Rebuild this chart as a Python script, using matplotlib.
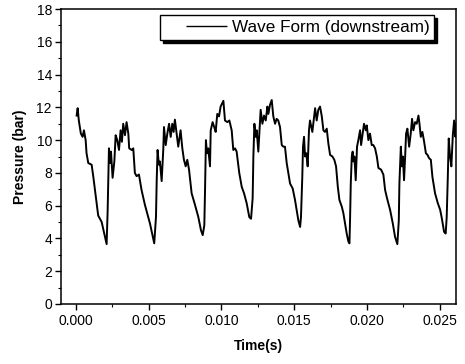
import matplotlib
matplotlib.use("Agg")
import matplotlib.pyplot as plt
from matplotlib.lines import Line2D
from matplotlib.ticker import MultipleLocator

plt.rcParams['font.family'] = ['Liberation Sans', 'DejaVu Sans']
plt.rcParams['lines.scale_dashes'] = False

# pressure wave (time in s, pressure in bar)
time_s = [0.00005, 0.00012, 0.00020, 0.00034, 0.00046, 0.00055, 0.00067, 0.00073, 0.00085, 0.00108,
          0.00119, 0.00137, 0.00153, 0.00177, 0.00195, 0.00211, 0.00218, 0.00227, 0.00234, 0.00241,
          0.00252, 0.00264, 0.00273, 0.00284, 0.00296, 0.00307, 0.00316, 0.00325, 0.00337, 0.00348,
          0.00360, 0.00366, 0.00383, 0.00394, 0.00405, 0.00417, 0.00433, 0.00451, 0.00474,
          0.00509, 0.00538, 0.00550, 0.00555, 0.00561, 0.00570, 0.00577, 0.00589, 0.00600, 0.00605,
          0.00617, 0.00628, 0.00640, 0.00651, 0.00662, 0.00671, 0.00680, 0.00692, 0.00703, 0.00719,
          0.00731, 0.00742, 0.00754, 0.00765, 0.00777, 0.00795, 0.00818, 0.00841, 0.00859, 0.00871,
          0.00882, 0.00887, 0.00893, 0.00900, 0.00909, 0.00921, 0.00926, 0.00939, 0.00950, 0.00960,
          0.00971, 0.00983, 0.00994,
          0.01013, 0.01024, 0.01040, 0.01054, 0.01070, 0.01081, 0.01093, 0.01104, 0.01122, 0.01139,
          0.01155, 0.01173, 0.01191, 0.01203, 0.01214, 0.01219, 0.01226, 0.01235, 0.01242, 0.01253,
          0.01260, 0.01269, 0.01281, 0.01292, 0.01304, 0.01315, 0.01322, 0.01333, 0.01345, 0.01356,
          0.01368, 0.01379, 0.01390, 0.01402, 0.01414, 0.01425, 0.01436, 0.01448, 0.01471, 0.01489,
          0.01505,
          0.01528, 0.01540, 0.01546, 0.01555, 0.01560, 0.01567, 0.01574, 0.01583, 0.01592, 0.01601,
          0.01608, 0.01615, 0.01624, 0.01636, 0.01643, 0.01654, 0.01665, 0.01677, 0.01689, 0.01700,
          0.01711, 0.01723, 0.01734, 0.01746, 0.01762, 0.01775, 0.01787, 0.01799, 0.01810, 0.01826,
          0.01837, 0.01849, 0.01860, 0.01872, 0.01879, 0.01883, 0.01888, 0.01895, 0.01901, 0.01906,
          0.01913, 0.01922, 0.01931, 0.01940, 0.01952, 0.01959, 0.01970, 0.01979, 0.01991, 0.01998,
          0.02009,
          0.02020, 0.02032, 0.02043, 0.02055, 0.02067, 0.02078, 0.02096, 0.02112, 0.02124, 0.02140,
          0.02158, 0.02177, 0.02192, 0.02208, 0.02218, 0.02222, 0.02232, 0.02239, 0.02246, 0.02254,
          0.02261, 0.02268, 0.02277, 0.02289, 0.02300, 0.02309, 0.02318, 0.02330, 0.02341, 0.02353,
          0.02360, 0.02369, 0.02380, 0.02392, 0.02404, 0.02415, 0.02426, 0.02438, 0.02449, 0.02467,
          0.02486, 0.02502, 0.02513, 0.02529, 0.02540, 0.02547, 0.02554, 0.02561, 0.02570, 0.02579,
          0.02589, 0.02598, 0.02607, 0.02612]
pressure = [11.5, 11.95, 11.2, 10.4, 10.2, 10.6, 10.0, 9.2, 8.6, 8.5,
            7.8, 6.55, 5.4, 5.0, 4.3, 3.65, 5.7, 9.5, 8.6, 9.3,
            7.7, 8.7, 10.3, 10.0, 9.4, 10.6, 9.9, 11.0, 10.3, 11.1,
            10.4, 9.5, 9.4, 9.5, 8.0, 7.8, 7.9, 6.95, 6.05,
            4.9, 3.7, 5.3, 7.55, 9.4, 8.5, 8.7, 7.5, 9.4, 10.8,
            9.7, 10.4, 11.0, 10.2, 11.0, 10.5, 11.25, 10.4, 9.6, 10.6,
            9.5, 8.8, 8.4, 8.8, 8.2, 6.75, 6.05, 5.3, 4.5, 4.2,
            4.8, 6.95, 10.0, 9.2, 9.5, 8.4, 10.6, 11.1, 10.8, 10.5,
            11.6, 11.45, 12.05,
            12.4, 11.2, 11.1, 11.2, 10.6, 9.4, 9.5, 9.3, 8.0, 7.15,
            6.75, 6.15, 5.3, 5.2, 6.45, 9.0, 11.0, 10.2, 10.6, 9.3,
            10.4, 11.85, 11.0, 11.5, 11.2, 12.05, 11.6, 12.15, 12.45, 11.45,
            11.0, 11.3, 11.2, 10.8, 9.7, 9.6, 9.6, 8.6, 7.35, 7.05,
            6.35,
            5.1, 4.7, 5.3, 7.75, 9.6, 10.2, 9.0, 9.2, 8.4, 10.6,
            11.2, 10.9, 10.5, 11.45, 11.95, 11.2, 11.85, 12.05, 11.45, 10.6,
            10.5, 10.7, 9.8, 9.1, 9.0, 8.8, 8.4, 7.15, 6.35, 5.95,
            5.55, 4.9, 4.3, 3.8, 3.7, 5.1, 7.35, 9.0, 9.3, 8.7,
            9.0, 7.55, 9.6, 10.0, 10.6, 9.7, 10.4, 11.0, 10.6, 10.9,
            10.0,
            10.4, 9.7, 9.7, 9.5, 9.0, 8.3, 8.2, 7.9, 6.95, 6.35,
            5.75, 4.9, 4.1, 3.65, 5.1, 7.35, 9.6, 8.4, 9.0, 7.55,
            8.9, 10.4, 10.7, 9.6, 10.4, 11.3, 10.6, 11.1, 11.0, 11.5,
            11.0, 10.2, 10.5, 9.9, 9.2, 9.1, 8.9, 8.8, 7.75, 6.75,
            6.15, 5.75, 5.25, 4.4, 4.3, 5.3, 7.55, 10.1, 9.0, 8.4,
            10.3, 11.2, 10.2, 11.0]
series_label = "Wave Form (downstream)"

fig = plt.figure(figsize=(4.65, 3.64), dpi=100)
ax = fig.add_axes([0.131, 0.165, 0.850, 0.810])

ax.plot(time_s, pressure, color="black", lw=1.4)

ax.set_xlim(-0.00103, 0.02612)
ax.set_ylim(0, 18)
ax.xaxis.set_major_locator(MultipleLocator(0.005))
ax.xaxis.set_minor_locator(MultipleLocator(0.0025))
ax.yaxis.set_major_locator(MultipleLocator(2))
ax.yaxis.set_minor_locator(MultipleLocator(1))
ax.xaxis.set_major_formatter(plt.FormatStrFormatter("%.3f"))
ax.tick_params(which="major", direction="out", length=4.5, width=1, labelsize=10, pad=3)
ax.tick_params(which="minor", direction="out", length=2.2, width=0.8)
ax.tick_params(axis="y", pad=2)
for s in ax.spines.values():
    s.set_linewidth(1.1)

ax.set_xlabel("Time(s)", fontsize=10, fontweight="bold", labelpad=8)
ax.set_ylabel("Pressure (bar)", fontsize=10, fontweight="bold", labelpad=7)

# legend handle: blank gap then line, like the original
handle = Line2D([], [], color="black", lw=1.0, linestyle=(29.5, (29.5, 14.4)))
leg = ax.legend([handle], [series_label], loc="upper right", bbox_to_anchor=(0.945, 0.980),
                borderaxespad=0, fontsize=12.3, frameon=True, fancybox=False,
                handlelength=3.57, handletextpad=0.29, borderpad=0.3,
                shadow={"color": "black", "alpha": 1})
leg.get_frame().set_edgecolor("black")
leg.get_frame().set_linewidth(1.0)

fig.savefig("out.png", dpi=100)
